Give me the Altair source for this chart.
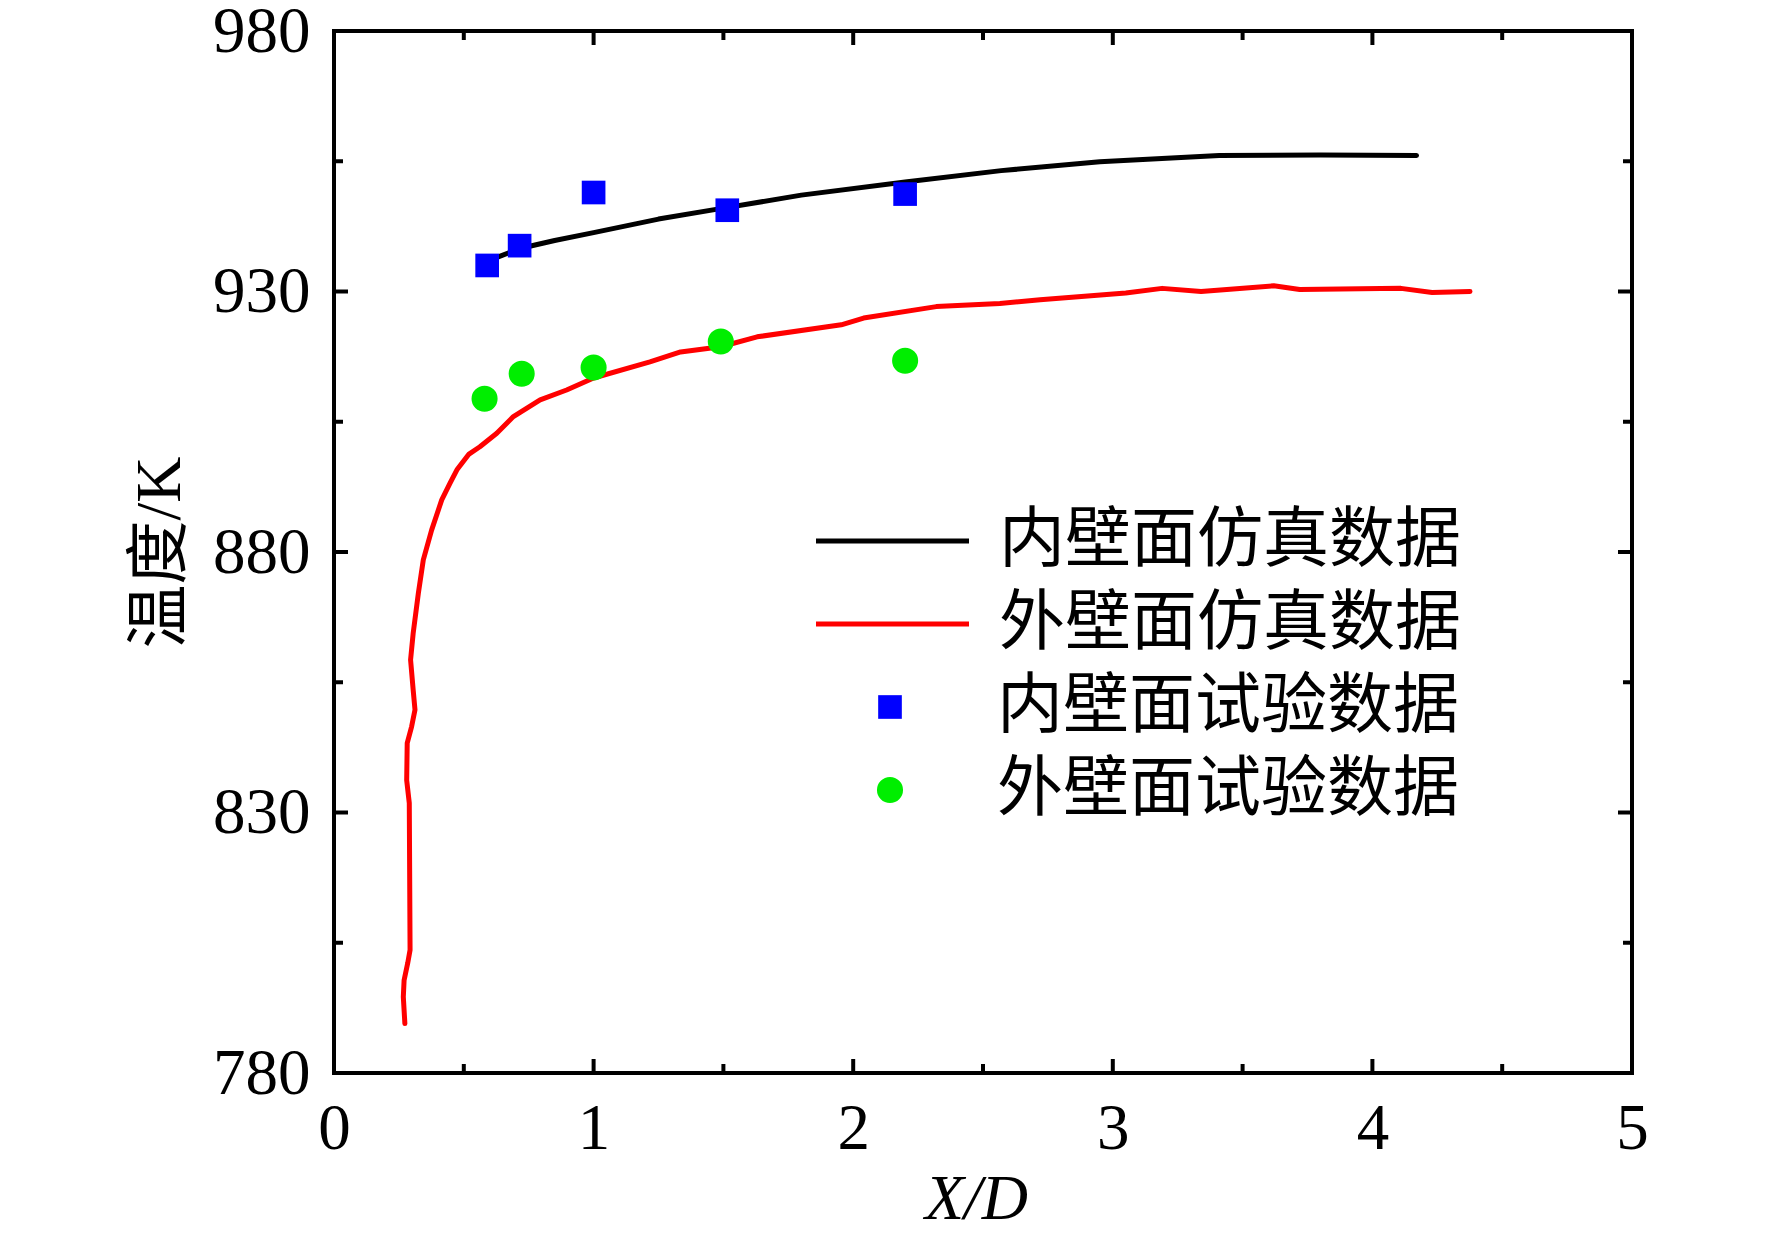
import altair as alt
import pandas as pd

# ---------------- data ----------------
SERIES_SIM = ["内壁面仿真数据", "外壁面仿真数据"]
SERIES_EXP = ["内壁面试验数据", "外壁面试验数据"]

inner_sim_x = [0.63, 0.72, 0.85, 1.0, 1.25, 1.5, 1.8, 2.2, 2.57, 2.95, 3.41, 3.8, 4.17]
inner_sim_t = [936.6, 938.3, 939.8, 941.3, 943.9, 946.0, 948.5, 951.0, 953.2, 954.9, 956.1, 956.2, 956.1]

outer_sim_x = [0.273, 0.267, 0.270, 0.284, 0.293, 0.290, 0.280, 0.282, 0.299, 0.312, 0.305,
               0.295, 0.305, 0.325, 0.344, 0.376, 0.415, 0.447, 0.475, 0.52, 0.562, 0.627, 0.691,
               0.794, 0.896, 1.0, 1.217, 1.335, 1.49, 1.63, 1.954, 2.04, 2.32, 2.565, 2.72,
               3.05, 3.19, 3.34, 3.62, 3.72, 4.11, 4.23, 4.376]
outer_sim_t = [789.5, 794.6, 797.8, 801.1, 803.6, 831.8, 836.2, 843.3, 846.5, 849.7, 853.5,
               859.3, 864.4, 872.1, 878.5, 884.2, 890.0, 893.2, 895.9, 898.8, 900.2, 902.8, 906.0,
               909.2, 911.1, 913.4, 916.5, 918.4, 919.4, 921.3, 923.6, 924.9, 927.1, 927.7, 928.4,
               929.7, 930.6, 930.0, 931.1, 930.4, 930.6, 929.8, 930.0]

inner_exp_x = [0.59, 0.715, 1.0, 1.515, 2.2]
inner_exp_t = [935.0, 938.8, 949.0, 945.6, 948.7]
outer_exp_x = [0.58, 0.723, 1.0, 1.49, 2.2]
outer_exp_t = [909.4, 914.2, 915.4, 920.4, 916.7]

X_MAJOR = [0, 1, 2, 3, 4, 5]
X_MINOR = [0.5, 1.5, 2.5, 3.5, 4.5]
Y_MAJOR = [780, 830, 880, 930, 980]
Y_MINOR = [805, 855, 905, 955]

# ---------------- tables ----------------
sim = pd.concat([
    pd.DataFrame({"x": inner_sim_x, "t": inner_sim_t, "series": SERIES_SIM[0],
                  "i": list(range(len(inner_sim_x)))}),
    pd.DataFrame({"x": outer_sim_x, "t": outer_sim_t, "series": SERIES_SIM[1],
                  "i": list(range(len(outer_sim_x)))}),
])
exp = pd.concat([
    pd.DataFrame({"x": inner_exp_x, "t": inner_exp_t, "series": SERIES_EXP[0]}),
    pd.DataFrame({"x": outer_exp_x, "t": outer_exp_t, "series": SERIES_EXP[1]}),
])

W, H = 1298, 1042
SERIF = "Liberation Serif"
CJK = "Noto Sans CJK SC"

xscale = alt.Scale(domain=[0, 5], nice=False, zero=False)
yscale = alt.Scale(domain=[780, 980], nice=False, zero=False)

x_axis = alt.Axis(values=X_MAJOR, format="d", domain=False, ticks=False, grid=False,
                  labelFont=SERIF, labelFontSize=65, labelColor="black", labelPadding=24,
                  labelFlush=False,
                  title="X/D", titleFont=SERIF, titleFontStyle="italic", titleFontWeight="normal",
                  titleFontSize=64, titleColor="black", titleX=642, titleY=126,
                  titleBaseline="middle")
y_axis = alt.Axis(values=Y_MAJOR, format="d", domain=False, ticks=False, grid=False,
                  labelFont=SERIF, labelFontSize=65, labelColor="black", labelPadding=24,
                  labelFlush=False,
                  title="温度/K", titleFont=f"{SERIF}, {CJK}", titleFontWeight="normal",
                  titleFontSize=64, titleColor="black", titleX=-174, titleY=H / 2,
                  titleAngle=270, titleBaseline="middle", titleAlign="center")


def X(field):
    return alt.X(field, scale=xscale, axis=x_axis, title="X/D")


def Y(field):
    return alt.Y(field, scale=yscale, axis=y_axis, title="温度/K")


# a long horizontal stroke as legend symbol (path units scaled by sqrt(size)/2)
LINE_SYMBOL = "M-1,0L9.2,0"

lines = alt.Chart(sim).mark_line(strokeWidth=5, strokeJoin="round", strokeCap="round").encode(
    x=X("x:Q"),
    y=Y("t:Q"),
    color=alt.Color("series:N",
                    scale=alt.Scale(domain=SERIES_SIM, range=["#000000", "#ff0000"]),
                    legend=alt.Legend(title=None, orient="none", legendX=464, legendY=477,
                                      symbolType=LINE_SYMBOL, symbolSize=900,
                                      symbolStrokeWidth=5, labelOffset=135,
                                      labelFont=CJK, labelFontSize=66, labelColor="black",
                                      labelLimit=800, rowPadding=17, padding=0)),
    order=alt.Order("i:Q"),
)

points = alt.Chart(exp).mark_point(filled=True, opacity=1, strokeWidth=0).encode(
    x=X("x:Q"),
    y=Y("t:Q"),
    color=alt.Color("series:N",
                    scale=alt.Scale(domain=SERIES_EXP, range=["#0000ff", "#00ee00"]),
                    legend=alt.Legend(title=None, orient="none", legendX=523, legendY=643,
                                      symbolSize=860, symbolStrokeWidth=0, symbolOpacity=1,
                                      labelOffset=74,
                                      labelFont=CJK, labelFontSize=66, labelColor="black",
                                      labelLimit=800, rowPadding=17, padding=0)),
    shape=alt.Shape("series:N", scale=alt.Scale(domain=SERIES_EXP, range=["square", "circle"])),
    size=alt.Size("series:N", scale=alt.Scale(domain=SERIES_EXP, range=[560, 680]), legend=None),
)


def tick_layer(values, orient, length):
    df = pd.DataFrame({"v": values})
    base = alt.Chart(df).mark_rule(color="black", strokeWidth=4)
    if orient == "bottom":
        return base.encode(x=X("v:Q"), y=alt.value(H), y2=alt.value(H - length))
    if orient == "top":
        return base.encode(x=X("v:Q"), y=alt.value(0), y2=alt.value(length))
    if orient == "left":
        return base.encode(y=Y("v:Q"), x=alt.value(0), x2=alt.value(length))
    return base.encode(y=Y("v:Q"), x=alt.value(W), x2=alt.value(W - length))


ticks = []
for o in ["bottom", "top"]:
    ticks.append(tick_layer(X_MAJOR, o, 14))
    ticks.append(tick_layer(X_MINOR, o, 9))
for o in ["left", "right"]:
    ticks.append(tick_layer(Y_MAJOR, o, 14))
    ticks.append(tick_layer(Y_MINOR, o, 9))

chart = alt.layer(lines, points, *ticks).resolve_scale(
    color="independent", shape="independent", size="independent"
).properties(
    width=W, height=H,
    autosize=alt.AutoSizeParams(type="none"),
    padding={"left": 326, "top": 23, "right": 124, "bottom": 160},
    background="white",
).configure_view(stroke="black", strokeWidth=4)

chart.save("out.html", embed_options={"renderer": "svg", "actions": False})
